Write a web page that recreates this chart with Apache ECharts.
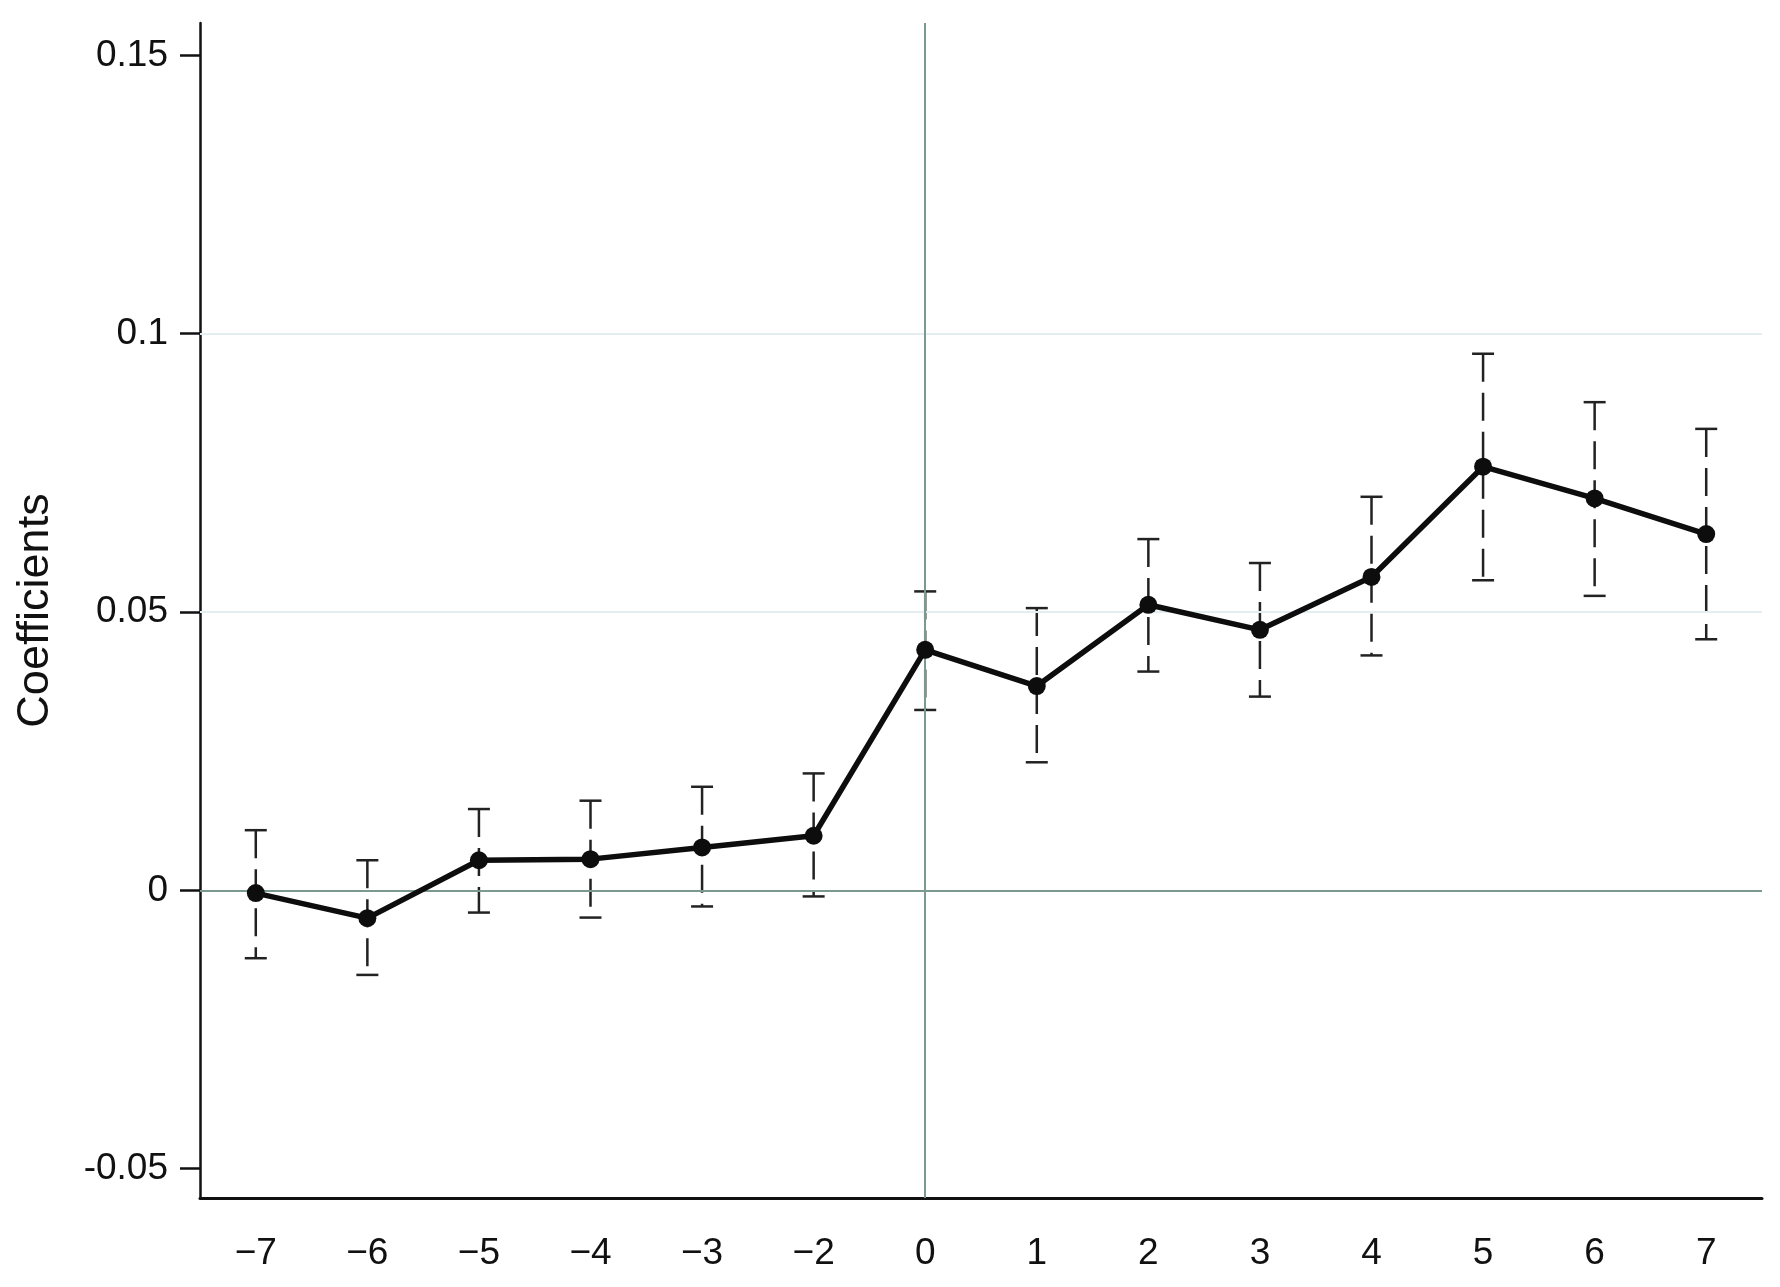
<!DOCTYPE html>
<html lang="en">
<head>
  <meta charset="UTF-8">
  <title>Event study coefficients</title>
  <script src="https://cdn.jsdelivr.net/npm/echarts@6/dist/echarts.min.js"></script>
  <style>
    html, body { margin: 0; padding: 0; background: #fff; }
  </style>
</head>
<body>
  <div id="main" style="width: 1780px; height: 1287px;"></div>
  <script>
    // event time (note: -1 is the omitted base period)
    var periods = ['−7', '−6', '−5', '−4', '−3', '−2', '0', '1', '2', '3', '4', '5', '6', '7']
    var coef = [-0.0005, -0.0050, 0.0054, 0.0056, 0.0077, 0.0098, 0.0432, 0.0367, 0.0513, 0.0468, 0.0563, 0.0761, 0.0704, 0.0640]
    var ciLow = [-0.0122, -0.0152, -0.0040, -0.0049, -0.0029, -0.0011, 0.0324, 0.0230, 0.0393, 0.0348, 0.0422, 0.0557, 0.0529, 0.0451]
    var ciHigh = [0.0108, 0.0054, 0.0146, 0.0161, 0.0186, 0.0210, 0.0537, 0.0507, 0.0631, 0.0588, 0.0707, 0.0964, 0.0877, 0.0829]
    var yTicks = [-0.05, 0, 0.05, 0.1, 0.15]
    var gridLines = [0.05, 0.1]

    var myChart = echarts.init(document.getElementById('main'))
    var font = 'Liberation Sans, Arial, sans-serif'

    // error bar data: [index, low, high]
    var ciData = periods.map(function (p, i) {
      return [i, ciLow[i], ciHigh[i]]
    })

    var option = {
      animation: false,
      backgroundColor: '#fff',
      grid: { left: 200, right: 18, top: 23, bottom: 89 },
      xAxis: {
        type: 'category',
        data: periods,
        boundaryGap: true,
        axisLine: { onZero: false, lineStyle: { color: '#111', width: 3 } },
        axisTick: { alignWithLabel: true, length: 19, lineStyle: { color: '#111', width: 2 } },
        axisLabel: { color: '#111', fontSize: 37, fontFamily: font, margin: 37 },
        splitLine: { show: false }
      },
      yAxis: {
        type: 'value',
        min: -0.05528,
        max: 0.15582,
        name: 'Coefficients',
        nameLocation: 'middle',
        nameRotate: 90,
        nameGap: 142,
        nameTextStyle: { color: '#111', fontSize: 45, fontFamily: font },
        axisLine: { show: true, lineStyle: { color: '#111', width: 2.5 } },
        axisTick: { show: true, length: 20, customValues: yTicks, lineStyle: { color: '#111', width: 2.5 } },
        axisLabel: {
          color: '#111', fontSize: 37, fontFamily: font, margin: 32,
          customValues: yTicks,
          formatter: function (v) { return String(v) }
        },
        splitLine: { show: false }
      },
      series: [
        {
          // reference lines
          type: 'line',
          data: [],
          silent: true,
          z: 1,
          markLine: {
            silent: true,
            symbol: 'none',
            label: { show: false },
            data: gridLines.map(function (v) {
              return { yAxis: v, lineStyle: { color: '#e4eef0', width: 2, type: 'solid' } }
            }).concat([
              { yAxis: 0, lineStyle: { color: '#7a998f', width: 2, type: 'solid' } },
              { xAxis: '0', lineStyle: { color: '#7a998f', width: 2, type: 'solid' } }
            ])
          }
        },
        {
          // 95% CI bars, dashed with caps
          type: 'custom',
          data: ciData,
          z: 3,
          renderItem: function (params, api) {
            var top = api.coord([api.value(0), api.value(2)])
            var bot = api.coord([api.value(0), api.value(1)])
            var hw = 11
            var st = { stroke: '#222', lineWidth: 2.5 }
            return {
              type: 'group',
              children: [
                { type: 'line', shape: { x1: top[0], y1: top[1], x2: bot[0], y2: bot[1] },
                  style: { stroke: '#222', lineWidth: 2.5, lineDash: [28, 11] } },
                { type: 'line', shape: { x1: top[0] - hw, y1: top[1], x2: top[0] + hw, y2: top[1] }, style: st },
                { type: 'line', shape: { x1: bot[0] - hw, y1: bot[1], x2: bot[0] + hw, y2: bot[1] }, style: st }
              ]
            }
          }
        },
        {
          name: 'Coefficients',
          type: 'line',
          data: coef,
          z: 5,
          symbol: 'circle',
          symbolSize: 18,
          itemStyle: { color: '#0d0d0d' },
          lineStyle: { color: '#0d0d0d', width: 5.5 }
        }
      ]
    }
    myChart.setOption(option)
  </script>
</body>
</html>
